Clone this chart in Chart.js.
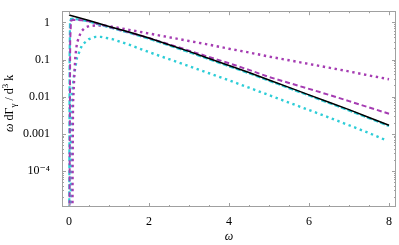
<!DOCTYPE html>
<html lang="en">
<head>
    <meta charset="UTF-8">
    <title>Photon rate</title>
    <script src="https://cdn.jsdelivr.net/npm/chart.js"></script>
    <style>
        body { margin: 0; background: #fff; }
        .chart-container { width: 399px; height: 245px; position: relative; }
    </style>
</head>
<body>
    <div class="chart-container">
        <canvas id="rateChart"></canvas>
    </div>

    <script>
        // omega grid and values, one pair per curve
        const blackW = [0, 0.5, 1, 1.5, 2, 2.5, 3, 3.5, 4, 4.5, 5, 5.5, 6, 6.5, 7, 7.5, 8];
        const blackY = [1.58, 1.12, 0.776, 0.55, 0.38, 0.251, 0.166, 0.107, 0.069, 0.0447, 0.0282, 0.0178, 0.0112, 0.00708, 0.00447, 0.00275, 0.0017];

        const cyanDashW = [0.005, 0.01, 0.015, 0.025, 0.05, 0.1, 0.3, 0.5, 1, 1.5, 2, 2.5, 3, 3.5, 4, 4.5, 5, 5.5, 6, 6.5, 7, 7.5, 8];
        const cyanDashY = [1e-6, 3.2e-4, 0.1, 1.0, 1.23, 1.26, 1.17, 1.05, 0.74, 0.525, 0.363, 0.24, 0.158, 0.102, 0.066, 0.0427, 0.0269, 0.017, 0.0107, 0.00676, 0.00427, 0.00263, 0.00162];

        const purpleDashW = [0.01, 0.02, 0.03, 0.05, 0.1, 0.3, 0.5, 1, 1.5, 2, 2.5, 3, 3.5, 4, 4.5, 5, 5.5, 6, 6.5, 7, 7.5, 8];
        const purpleDashY = [1e-6, 1e-3, 0.316, 1.1, 1.17, 1.15, 1.07, 0.76, 0.537, 0.38, 0.257, 0.174, 0.117, 0.0794, 0.0525, 0.0339, 0.0234, 0.0162, 0.0112, 0.00759, 0.00513, 0.00347];

        const purpleDotW = [0.085, 0.09, 0.1, 0.13, 0.16, 0.2, 0.3, 0.4, 0.5, 0.7, 1, 1.5, 2, 2.5, 3, 3.5, 4, 4.5, 5, 5.5, 6, 6.5, 7, 7.5, 8];
        const purpleDotY = [1e-6, 1.26e-4, 6.3e-3, 0.0316, 0.126, 0.282, 0.562, 0.724, 0.794, 0.832, 0.794, 0.631, 0.501, 0.398, 0.316, 0.251, 0.195, 0.155, 0.12, 0.0955, 0.0759, 0.0603, 0.0479, 0.0372, 0.0295];

        const cyanDotW = [0.04, 0.05, 0.06, 0.08, 0.12, 0.2, 0.33, 0.5, 0.66, 0.8, 1.08, 1.5, 2, 2.5, 3, 3.5, 4, 4.5, 5, 5.5, 6, 6.5, 7, 7.5, 7.9];
        const cyanDotY = [1e-6, 1e-4, 3.16e-3, 0.0126, 0.0347, 0.112, 0.251, 0.355, 0.407, 0.407, 0.355, 0.251, 0.158, 0.102, 0.0661, 0.0427, 0.0275, 0.0174, 0.011, 0.00692, 0.00437, 0.00275, 0.0017, 0.00105, 6.9e-4];

        const xTicks = [0, 2, 4, 6, 8];
        const yTicks = [1e-4, 1e-3, 0.01, 0.1, 1];
        const yTickLabels = ['10\u207B\u2074', '0.001', '0.01', '0.1', '1'];

        const purple = 'rgb(165, 60, 178)';
        const cyan = 'rgb(45, 205, 215)';
        const serif = "'Liberation Serif', 'DejaVu Serif', serif";

        function pts(w, y) {
            return w.map((v, i) => ({ x: v, y: y[i] }));
        }

        // frame with inward ticks on all four sides, plus the y title
        const framePlugin = {
            id: 'frame',
            afterDraw(chart) {
                const ctx = chart.ctx;
                const a = chart.chartArea;
                const xs = chart.scales.x, ys = chart.scales.y;
                ctx.save();
                ctx.strokeStyle = '#a0a0a0';
                ctx.lineWidth = 1;
                ctx.strokeRect(Math.round(a.left) + 0.5, Math.round(a.top) + 0.5,
                    Math.round(a.right - a.left) - 1, Math.round(a.bottom - a.top) - 1);

                ctx.beginPath();
                // x ticks every 0.5
                for (let v = 0; v <= 8.001; v += 0.5) {
                    const px = Math.round(xs.getPixelForValue(v)) + 0.5;
                    const len = (v % 2 === 0) ? 4 : 2;
                    ctx.moveTo(px, a.bottom); ctx.lineTo(px, a.bottom - len);
                    ctx.moveTo(px, a.top); ctx.lineTo(px, a.top + len);
                }
                // y ticks, decades and minors
                for (let e = -5; e <= 0; e++) {
                    for (let m = 1; m <= 9; m++) {
                        const v = m * Math.pow(10, e);
                        if (v < ys.min || v > ys.max) continue;
                        const py = Math.round(ys.getPixelForValue(v)) + 0.5;
                        const len = m === 1 ? 4 : 2;
                        ctx.moveTo(a.left, py); ctx.lineTo(a.left + len, py);
                        ctx.moveTo(a.right, py); ctx.lineTo(a.right - len, py);
                    }
                }
                ctx.stroke();

                // y axis title: omega dGamma_gamma / d^3 k
                ctx.translate(13, 132);
                ctx.rotate(-Math.PI / 2);
                ctx.fillStyle = '#000';
                ctx.textBaseline = 'alphabetic';
                ctx.textAlign = 'left';
                const parts = [
                    ['\u03C9', 'italic 12px', 0],
                    [' d\u0393', '12px', 0],
                    ['\u03B3', '9px', 3],
                    [' / d', '12px', 0],
                    ['3', '9px', -5],
                    [' k', '12px', 0]
                ];
                let x = 0;
                parts.forEach(p => {
                    ctx.font = p[1] + ' ' + serif;
                    ctx.fillText(p[0], x, p[2]);
                    x += ctx.measureText(p[0]).width;
                });
                ctx.restore();
            }
        };

        const ctxRate = document.getElementById('rateChart').getContext('2d');
        new Chart(ctxRate, {
            type: 'line',
            data: {
                datasets: [
                    { data: pts(blackW, blackY), borderColor: '#000', borderWidth: 1.5 },
                    { data: pts(purpleDashW, purpleDashY), borderColor: purple, borderWidth: 2, borderDash: [5, 3] },
                    { data: pts(cyanDashW, cyanDashY), borderColor: cyan, borderWidth: 2.2, borderDash: [5, 2] },
                    { data: pts(purpleDotW, purpleDotY), borderColor: purple, borderWidth: 2.4, borderDash: [2.4, 3.6] },
                    { data: pts(cyanDotW, cyanDotY), borderColor: cyan, borderWidth: 2.4, borderDash: [2.4, 3.6] }
                ]
            },
            options: {
                responsive: true,
                maintainAspectRatio: false,
                animation: false,
                layout: { padding: { top: 1, right: 3, left: 0, bottom: 0 } },
                elements: { point: { radius: 0 }, line: { tension: 0, fill: false } },
                plugins: { legend: { display: false }, tooltip: { enabled: false } },
                scales: {
                    x: {
                        type: 'linear',
                        min: -0.175,
                        max: 8.175,
                        grid: { display: false },
                        border: { display: false },
                        afterBuildTicks: s => { s.ticks = xTicks.map(v => ({ value: v })); },
                        afterFit: s => { s.height = 38; },
                        ticks: {
                            color: '#000',
                            padding: 0,
                            maxRotation: 0,
                            font: { family: serif, size: 12 },
                            callback: v => String(v)
                        },
                        title: {
                            display: true,
                            text: '\u03C9',
                            color: '#000',
                            padding: { top: 0, bottom: 1 },
                            font: { family: serif, size: 12, style: 'italic' }
                        }
                    },
                    y: {
                        type: 'logarithmic',
                        min: 1.07e-5,
                        max: 2,
                        grid: { display: false },
                        border: { display: false },
                        afterBuildTicks: s => { s.ticks = yTicks.map(v => ({ value: v })); },
                        afterFit: s => { s.width = 62; },
                        ticks: {
                            color: '#000',
                            padding: 4,
                            font: { family: serif, size: 12 },
                            callback: v => {
                                const i = yTicks.findIndex(t => Math.abs(t - v) / t < 1e-6);
                                return i >= 0 ? yTickLabels[i] : '';
                            }
                        }
                    }
                }
            },
            plugins: [framePlugin]
        });
    </script>
</body>
</html>
